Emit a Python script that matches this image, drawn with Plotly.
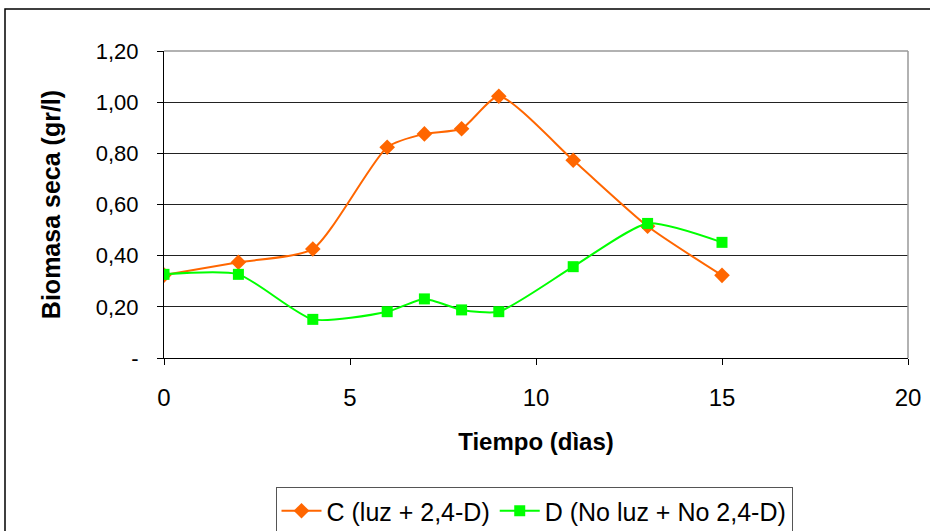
import plotly.graph_objects as go

dias_c = [0, 2, 4, 6, 7, 8, 9, 11, 13, 15]
biomasa_c = [0.324, 0.374, 0.426, 0.824, 0.876, 0.896, 1.023, 0.773, 0.515, 0.323]
dias_d = [0, 2, 4, 6, 7, 8, 9, 11, 13, 15]
biomasa_d = [0.327, 0.327, 0.151, 0.181, 0.231, 0.188, 0.181, 0.357, 0.526, 0.452]
nombre_c = "C (luz + 2,4-D)"
nombre_d = "D (No luz + No 2,4-D)"
y_ticks = [0, 0.2, 0.4, 0.6, 0.8, 1.0, 1.2]
y_ticktext = ["-", "0,20", "0,40", "0,60", "0,80", "1,00", "1,20"]
x_ticks = [0, 5, 10, 15, 20]

FONT = "Liberation Sans, Arial, sans-serif"

fig = go.Figure()
fig.add_trace(go.Scatter(
    x=dias_c, y=biomasa_c, name=nombre_c, mode="lines+markers",
    line=dict(color="#FF6600", width=2, shape="spline", smoothing=0.6),
    marker=dict(symbol="diamond", size=12, color="#FF6600"),
))
fig.add_trace(go.Scatter(
    x=dias_d, y=biomasa_d, name=nombre_d, mode="lines+markers",
    line=dict(color="#00FF00", width=2, shape="spline", smoothing=0.6),
    marker=dict(symbol="square", size=11, color="#00FF00"),
))

L, R, T, B = 164, 908, 51, 358
W, H = 930, 531
pw, ph = R - L, B - T

def px(x):
    return (x - L) / pw

def py(y):
    return (B - y) / ph

fig.update_layout(
    width=W, height=H,
    margin=dict(l=L, r=W - R, t=T, b=H - B, pad=0, autoexpand=False),
    paper_bgcolor="white", plot_bgcolor="white",
    font=dict(family=FONT, size=22, color="black"),
    showlegend=True,
    legend=dict(
        orientation="h", x=px(534), xanchor="center", y=py(487), yanchor="top",
        bordercolor="#555", borderwidth=1, font=dict(size=25, family=FONT),
        itemwidth=40, tracegroupgap=0,
    ),
    xaxis=dict(
        range=[0, 20], tickvals=x_ticks, ticks="outside", ticklen=6,
        tickcolor="black", showline=True, linecolor="black", linewidth=1,
        showgrid=False, zeroline=False, ticklabelstandoff=12, automargin=False,
        tickfont=dict(size=24),
        title=dict(text="<b>Tiempo (dìas)</b>", font=dict(size=24), standoff=23),
    ),
    yaxis=dict(
        range=[0, 1.2], tickvals=y_ticks, ticktext=y_ticktext, ticks="outside",
        ticklen=6, tickcolor="black", showline=True, linecolor="black", linewidth=1,
        showgrid=True, gridcolor="#222", gridwidth=1, zeroline=False,
        ticklabelstandoff=14, tickfont=dict(size=22), automargin=False,
        title=dict(text="<b>Biomasa seca (gr/l)</b>", font=dict(size=25), standoff=28),
    ),
    shapes=[
        dict(type="rect", xref="paper", yref="paper", x0=px(5), x1=px(940),
             y0=py(545), y1=py(9), line=dict(color="black", width=1.5), layer="below"),
        dict(type="line", xref="paper", yref="paper", x0=0, x1=1, y0=1, y1=1,
             line=dict(color="#999", width=1.5)),
        dict(type="line", xref="paper", yref="paper", x0=1, x1=1, y0=0, y1=1,
             line=dict(color="#999", width=1.5)),
    ],
)

fig.write_html("out.html")
